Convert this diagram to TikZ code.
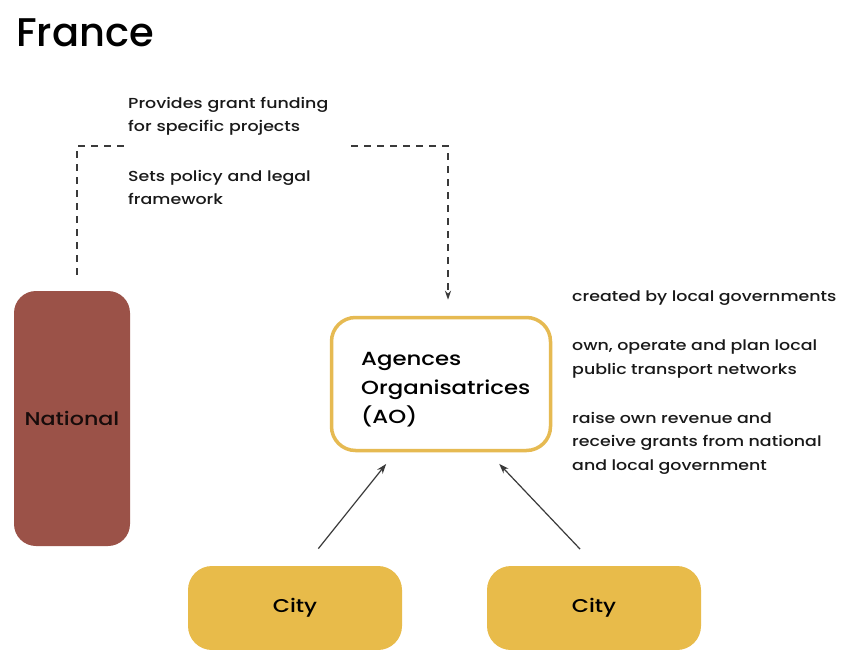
\documentclass[tikz,border=0pt]{standalone}
\usepackage{fontspec}
\setmainfont{Poppins}
\newfontfamily\bodyfont{Poppins Medium}[FakeStretch=1.2]
\newfontfamily\titlefont{Poppins Medium}
\usetikzlibrary{arrows.meta}
\definecolor{natred}{HTML}{9B5248}
\definecolor{citygold}{HTML}{E8BB4A}
\definecolor{aogold}{HTML}{E6BA52}
\definecolor{linegray}{HTML}{3A3A3A}
\tikzset{
  bodytext/.style={inner sep=0pt, anchor=north west, align=left, font=\bodyfont\fontsize{14.5}{23.5}\selectfont, text=black!90},
  citybox/.style={draw=none, fill=citygold, rounded corners=24pt, minimum width=214pt, minimum height=84pt, font=\bodyfont\fontsize{18.5}{22}\selectfont},
  dashconn/.style={draw=linegray, line width=1.3pt, dash pattern=on 7pt off 6pt, -{Stealth[length=9pt,width=6pt]}},
  solidconn/.style={draw=linegray, line width=1.2pt, -{Stealth[length=10pt,width=7pt]}},
}
\begin{document}
\begin{tikzpicture}[x=1pt,y=-1pt]
\useasboundingbox (0,0) rectangle (844,650);
\fill[white] (0,0) rectangle (844,650);
% title
\node[inner sep=0pt, anchor=north west, font=\titlefont\fontsize{40}{44}\selectfont] (title) at (16,19) {France};
% National
\node[fill=natred, rounded corners=22pt, minimum width=116pt, minimum height=255pt, font=\bodyfont\fontsize{18.5}{22}\selectfont, text=black!85!natred] (nat) at (72,418.5) {National};
% AO box
\node[draw=aogold, line width=3.5pt, fill=white, rounded corners=24pt, minimum width=219pt, minimum height=133pt] (ao) at (441,384) {};
\node[inner sep=0pt, anchor=north west, align=left, font=\bodyfont\fontsize{19}{29}\selectfont] (aotext) at (361,352) {Agences\\Organisatrices\\(AO)};
% cities
\node[citybox] (cityL) at (295,608) {City};
\node[citybox] (cityR) at (594,608) {City};
% dashed connector National -> AO
\coordinate (topline) at (0,146);
\draw[dashconn] ([xshift=5pt,yshift=16pt]nat.north) -- ([xshift=5pt]nat.north |- topline) -- ([xshift=7pt]ao.north |- topline) -- ([xshift=7pt,yshift=16pt]ao.north);
% text over dashed line
\node[bodytext, fill=white, inner sep=4pt, text width=214pt] (natnotes) at (124,93) {Provides grant funding\\for specific projects\\[26pt]Sets policy and legal\\framework};
% right notes
\node[bodytext] (n1) at (572,291) {created by local governments};
\node[bodytext] (n2) at (572,340) {own, operate and plan local\\public transport networks};
\node[bodytext] (n3) at (572,412) {raise own revenue and\\receive grants from national\\and local government};
% solid arrows city -> AO
\draw[solidconn, shorten <=22pt, shorten >=15pt] ([xshift=9.6pt]cityL.north) -- ([xshift=-45.5pt]ao.south);
\draw[solidconn, shorten <=23pt, shorten >=16pt] ([xshift=1.9pt]cityR.north) -- ([xshift=47.2pt]ao.south);
\end{tikzpicture}
\end{document}
